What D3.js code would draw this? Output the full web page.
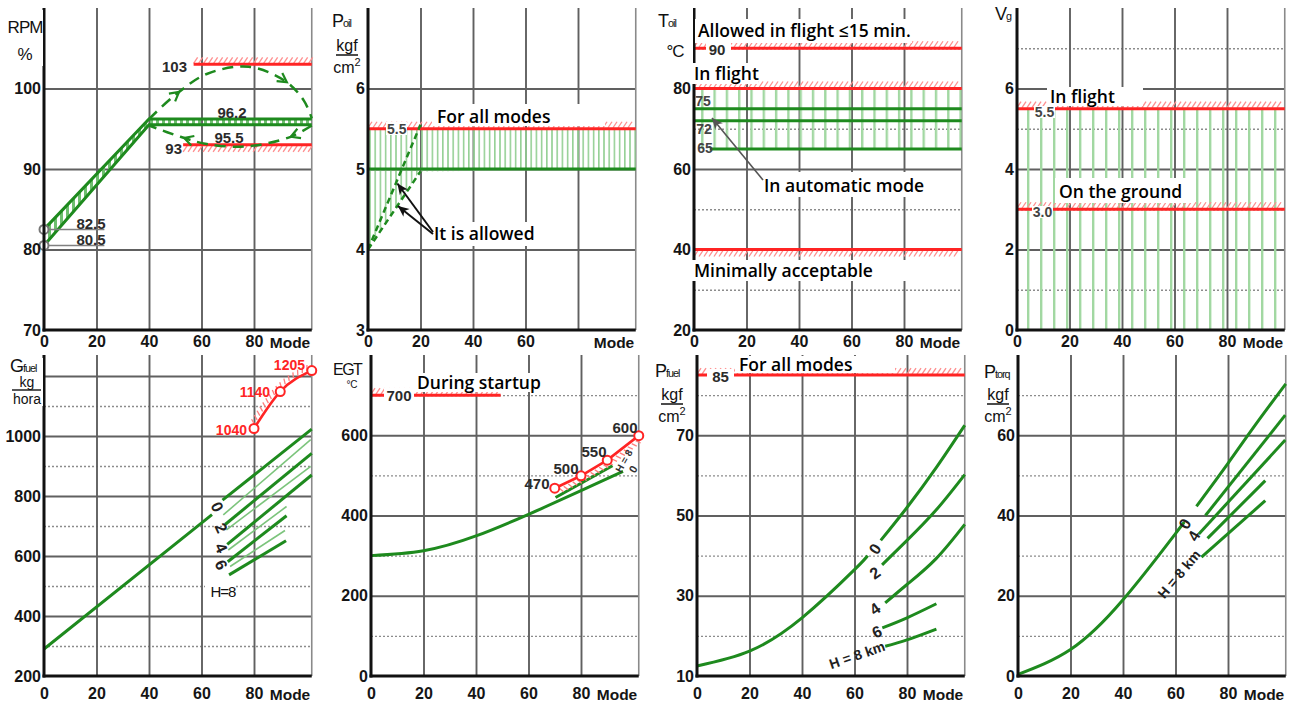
<!DOCTYPE html>
<html>
<head>
<meta charset="utf-8">
<script src="https://cdn.jsdelivr.net/npm/d3@7"></script>
<style>
  html, body { margin: 0; padding: 0; background: #fff; overflow: hidden; }
  svg { display: block; }
</style>
</head>
<body>
<svg id="chart" width="1290" height="704"></svg>
<script>
// ---------- data ----------
const modeTicks = [0, 20, 40, 60, 80];

// RPM, %
const rpmMode = [0, 40, 102];
const rpmUpper = [82.5, 96.2, 96.2];
const rpmLower = [80.5, 95.5, 95.5];
const rpmLimits = [103, 93];
const rpmLimitFrom = [57, 53];
const rpmArcUpMode = [40, 50, 62, 78, 92, 99, 102];
const rpmArcUp = [96.2, 99.2, 101.8, 102.7, 100.9, 98.5, 96.3];
const rpmArcDownMode = [102, 94, 77, 62, 52, 40];
const rpmArcDown = [95.4, 94.0, 92.8, 93.1, 94.0, 95.4];

// oil pressure, kgf/cm2
const poilLimit = 5.5;
const poilMin = 5.0;
const poilStartMode = [0, 20];
const poilStartUpper = [4.0, 5.55];
const poilStartLower = [4.0, 4.97];

// oil temperature, C
const toilLimits = [90, 80, 40];
const toilGreen = [75, 72, 65];
const toilGreenFrom = [0, 0, 6];

// vibration, g
const vgLimits = [5.5, 3.0];

// fuel consumption, kg/h, by altitude H (km)
const gfuelH0Mode = [0, 64, 66, 68, 102];
const gfuelH0 = [290, 738, NaN, 786, 1023];
const gfuelH2Mode = [69, 102];
const gfuelH2 = [705, 942];
const gfuelH4Mode = [69.8, 102];
const gfuelH4 = [639, 870];
const gfuelH6Mode = [70, 92.4];
const gfuelH6 = [581, 734];
const gfuelH8Mode = [70.5, 92.2];
const gfuelH8 = [537, 651];
const gfuelGuideMode = [[68.3, 101.6], [69.5, 101.6], [70.2, 92.4], [70.9, 91.8]];
const gfuelGuide = [[737, 988], [687, 899], [620, 765], [565, 685]];
const gfuelLimitMode = [80, 90, 102];
const gfuelLimit = [1025, 1148, 1218];
const gfuelLimitLabels = ["1040", "1140", "1205"];

// exhaust gas temperature, C
const egtMode = [0, 20, 40, 60, 80, 96];
const egtH0 = [300, 312, 349, 403, 462, 510];
const egtH8Mode = [70.3, 92];
const egtH8 = [445, 524];
const egtLimitMode = [70, 80, 90, 102];
const egtLimit = [468, 499, 538, 599];
const egtLimitLabels = ["470", "500", "550", "600"];
const egtStartLimit = 700;

// fuel pressure, kgf/cm2
const pfuelLimit = 85;
const pfuelH0Mode = [0, 20, 40, 60, 65, 67, 70, 80, 91, 102];
const pfuelH0 = [12.5, 16.2, 24.5, 36.5, 40.0, NaN, 43.8, 52.0, 61.8, 72.5];
const pfuelH2Mode = [70.5, 80, 91, 102];
const pfuelH2 = [37.7, 43.8, 51.3, 60.2];
const pfuelH4Mode = [71.7, 80, 91, 102];
const pfuelH4 = [28.2, 32.8, 39.2, 47.8];
const pfuelH6Mode = [70.6, 80, 91.2];
const pfuelH6 = [22, 24.5, 28];
const pfuelH8Mode = [71.7, 80, 91.2];
const pfuelH8 = [17.4, 19, 21.7];

// torque pressure, kgf/cm2
const ptorqH0Mode = [0, 20, 40, 60, 62.5, 65, 68, 80, 90, 102];
const ptorqH0 = [0.4, 6.6, 19, 35.5, 37.6, NaN, 42.3, 53.0, 62.2, 72.8];
const ptorqH2Mode = [71.4, 101.8];
const ptorqH2 = [40, 65];
const ptorqH4Mode = [68.9, 101.8];
const ptorqH4 = [35.4, 58.8];
const ptorqH6Mode = [72.2, 94.2];
const ptorqH6 = [34.3, 48.7];
const ptorqH8Mode = [69.9, 94.2];
const ptorqH8 = [29.6, 43.7];

// ---------- drawing ----------
const FONT = "'Liberation Sans', Arial, sans-serif";
const NARROW = "'Liberation Sans Narrow', 'Arial Narrow', 'Liberation Sans', sans-serif";
const NOTE = "'Open Sans', Lato, sans-serif";
const GREEN = "#1e8a1e", RED = "#ff2424", GRID = "#606060";
const W = 267.75;
const rowRange = [[330, 8], [676, 355]];

const svg = d3.select("#chart");
const defs = svg.append("defs");

function stripes(id, step, lw, color) {
  const p = defs.append("pattern").attr("id", id)
    .attr("patternUnits", "userSpaceOnUse").attr("width", step).attr("height", 10);
  p.append("rect").attr("width", lw).attr("height", 10).attr("fill", color);
}
stripes("hatchBand", 6, 3, "#6fbf6f");
stripes("hatchP2", 5.2, 1.6, "#95d095");
stripes("hatchP3", 12.3, 2.4, "#a2d8a2");
stripes("hatchP4", 13, 2.4, "#a2d8a2");

function makePanel(o) {
  const x = d3.scaleLinear().domain([0, 102]).range([o.left, o.left + W]);
  const y = d3.scaleLinear().domain(o.yDomain).range(rowRange[o.row]);
  const root = svg.append("g");
  const grid = root.append("g"), marks = root.append("g"), axes = root.append("g"), notes = root.append("g");
  const [yb, yt] = y.range();

  grid.append("g").attr("transform", `translate(${o.left},0)`)
    .call(d3.axisLeft(y).tickValues(o.minor).tickSize(-W).tickFormat(""))
    .call(g => g.select(".domain").remove())
    .selectAll("line").attr("stroke", "#8c8c8c").attr("stroke-width", 1.4).attr("stroke-dasharray", "2,2");
  grid.append("g").attr("transform", `translate(${o.left},0)`)
    .call(d3.axisLeft(y).tickValues(o.major).tickSize(-W).tickFormat(""))
    .call(g => g.select(".domain").remove())
    .selectAll("line").attr("stroke", GRID).attr("stroke-width", 1.9);
  grid.append("g").attr("transform", `translate(0,${yb})`)
    .call(d3.axisBottom(x).tickValues([20, 40, 60, 80]).tickSize(-(yb - yt)).tickFormat(""))
    .call(g => g.select(".domain").remove())
    .selectAll("line").attr("stroke", GRID).attr("stroke-width", 1.9);
  grid.append("line").attr("x1", x(102)).attr("x2", x(102)).attr("y1", yb).attr("y2", yt)
    .attr("stroke", "#8a8a8a").attr("stroke-width", 1.6);

  axes.append("line").attr("x1", o.left).attr("x2", o.left).attr("y1", yb + 1.5).attr("y2", yt)
    .attr("stroke", "#111").attr("stroke-width", 3);
  axes.append("line").attr("x1", o.left - 1.5).attr("x2", x(102)).attr("y1", yb).attr("y2", yb)
    .attr("stroke", "#111").attr("stroke-width", 3);

  axes.append("g").attr("transform", `translate(${o.left - 1},0)`)
    .call(d3.axisLeft(y).tickValues(o.labels).tickSize(0).tickPadding(2).tickFormat(d => String(d)))
    .call(g => g.select(".domain").remove())
    .selectAll("text").attr("font-size", 16).attr("font-weight", "bold")
    .attr("font-family", FONT).attr("fill", "#151515");
  const pad = o.row === 0 ? 6 : 12;
  axes.append("g").attr("transform", `translate(0,${yb})`)
    .call(d3.axisBottom(x).tickValues(o.xLabels || modeTicks).tickSize(0).tickPadding(pad).tickFormat(d => String(d)))
    .call(g => g.select(".domain").remove())
    .selectAll("text").attr("font-size", 16).attr("font-weight", "bold")
    .attr("font-family", FONT).attr("fill", "#151515");
  axes.append("text").attr("x", x(86)).attr("y", yb + pad + 11.5).text("Mode")
    .attr("font-size", 15.5).attr("font-weight", "bold").attr("font-family", FONT).attr("fill", "#151515");

  return { x, y, marks, notes, left: o.left };
}

function series(p, modes, vals, opt = {}) {
  const pts = modes.map((m, i) => [m, vals[i]]);
  const line = d3.line().defined(d => !isNaN(d[1]))
    .x(d => p.x(d[0])).y(d => p.y(d[1])).curve(opt.curve || d3.curveLinear);
  return p.marks.append("path").attr("d", line(pts)).attr("fill", "none")
    .attr("stroke", opt.color || GREEN).attr("stroke-width", opt.width || 3)
    .attr("stroke-dasharray", opt.dash || null).attr("stroke-linecap", "butt");
}

function limit(p, value, from, to, side) {
  const y0 = p.y(value);
  d3.range(p.x(from), p.x(to) - 3, 5).forEach(xp => {
    const yA = side < 0 ? y0 - 1 : y0 + 7, yB = side < 0 ? y0 - 7 : y0 + 1;
    p.marks.append("line").attr("x1", xp).attr("y1", yA).attr("x2", xp + 4).attr("y2", yB)
      .attr("stroke", "#ff8e8e").attr("stroke-width", 1.3);
  });
  p.marks.append("line").attr("x1", p.x(from)).attr("x2", p.x(to)).attr("y1", y0).attr("y2", y0)
    .attr("stroke", RED).attr("stroke-width", 3);
}

function hatchAlong(p, sel, side, step) {
  const n = sel.node(), L = n.getTotalLength();
  d3.range(4, L - 3, step).forEach(l => {
    const a = n.getPointAtLength(l), b = n.getPointAtLength(l + 1);
    const len = Math.hypot(b.x - a.x, b.y - a.y), tx = (b.x - a.x) / len, ty = (b.y - a.y) / len;
    const nx = -ty * side, ny = tx * side;
    p.marks.append("line").attr("x1", a.x + nx * 2).attr("y1", a.y + ny * 2)
      .attr("x2", a.x + nx * 7 + tx * 2.5).attr("y2", a.y + ny * 7 + ty * 2.5)
      .attr("stroke", "#ff7c7c").attr("stroke-width", 1.3);
  });
}

function chevrons(p, sel, fracs) {
  const n = sel.node(), L = n.getTotalLength();
  fracs.forEach(f => {
    const a = n.getPointAtLength(L * f), b = n.getPointAtLength(L * f - 2);
    const ang = Math.atan2(a.y - b.y, a.x - b.x) * 180 / Math.PI;
    p.marks.append("path").attr("d", "M-9,-5L0,0L-9,5")
      .attr("transform", `translate(${a.x},${a.y}) rotate(${ang})`)
      .attr("fill", "none").attr("stroke", GREEN).attr("stroke-width", 2.2);
  });
}

function circles(p, modes, vals, color) {
  p.marks.selectAll(null).data(modes.map((m, i) => [m, vals[i]])).join("circle")
    .attr("cx", d => p.x(d[0])).attr("cy", d => p.y(d[1])).attr("r", 4.5)
    .attr("fill", "#fff").attr("stroke", color).attr("stroke-width", 2);
}

function box(layer, x0, y0, x1, y1) {
  return layer.append("rect").attr("x", x0).attr("y", y0).attr("width", x1 - x0).attr("height", y1 - y0).attr("fill", "#fff");
}
function txt(layer, x, y, s, o = {}) {
  return layer.append("text").attr("x", x).attr("y", y).text(s)
    .attr("font-size", o.size || 15).attr("font-weight", o.weight || "bold")
    .attr("font-family", o.family || FONT).attr("fill", o.color || "#2b2b2b")
    .attr("text-anchor", o.anchor || "middle").attr("dominant-baseline", o.base || "central")
    .attr("letter-spacing", o.ls || null)
    .attr("transform", o.rot ? `rotate(${o.rot},${x},${y})` : null);
}
function note(layer, x, y, s, b) {
  box(layer, b[0], b[1], b[2], b[3]);
  return txt(layer, x, y, s, { family: NOTE, size: 17.5, weight: 600, anchor: "start", base: "alphabetic", color: "#000" });
}
function sym(layer, x, y, main, sub, size = 18) {
  const t = layer.append("text").attr("x", x).attr("y", y).attr("font-family", NARROW)
    .attr("font-size", size).attr("fill", "#111").attr("letter-spacing", -1);
  t.append("tspan").text(main);
  if (sub) t.append("tspan").attr("font-size", size * 0.6).attr("dy", 0).text(sub);
  return t;
}
function pointer(layer, x1, y1, x2, y2, color, w) {
  const ang = Math.atan2(y2 - y1, x2 - x1) * 180 / Math.PI;
  layer.append("line").attr("x1", x1).attr("y1", y1).attr("x2", x2).attr("y2", y2)
    .attr("stroke", color).attr("stroke-width", w);
  layer.append("path").attr("d", "M-11,-5L0,0L-11,5L-8,0Z")
    .attr("transform", `translate(${x2},${y2}) rotate(${ang})`).attr("fill", color);
}
function titleBox(layer, id, x0, y0, x1, y1) {
  defs.append("clipPath").attr("id", id).append("rect")
    .attr("x", x0).attr("y", y0).attr("width", x1 - x0).attr("height", y1 - y0);
  box(layer, x0, y0, x1, y1);
  return layer.append("g").attr("clip-path", `url(#${id})`);
}
function kgfcm(g, cx, yk, ycm) {
  g.append("text").attr("x", cx).attr("y", yk).text("kgf").attr("text-anchor", "middle")
    .attr("font-family", NARROW).attr("font-size", 16).attr("fill", "#111");
  g.append("line").attr("x1", cx - 11).attr("x2", cx + 11).attr("y1", yk + 4).attr("y2", yk + 4)
    .attr("stroke", "#111").attr("stroke-width", 1.5);
  const t = g.append("text").attr("x", cx).attr("y", ycm).attr("text-anchor", "middle")
    .attr("font-family", NARROW).attr("font-size", 16).attr("fill", "#111");
  t.append("tspan").text("cm");
  t.append("tspan").attr("font-size", 11).attr("dy", -7).text("2");
}

// ===== Panel 1: RPM =====
const p1 = makePanel({ row: 0, left: 44, yDomain: [70, 110], major: [80, 90, 100], minor: [], labels: [70, 80, 90, 100] });
{
  const band = rpmMode.map((m, i) => ({ m, lo: rpmLower[i], hi: rpmUpper[i] }));
  p1.marks.append("path")
    .attr("d", d3.area().x(d => p1.x(d.m)).y0(d => p1.y(d.lo)).y1(d => p1.y(d.hi))(band))
    .attr("fill", "url(#hatchBand)");
  series(p1, rpmMode, rpmUpper);
  series(p1, rpmMode, rpmLower);
  [rpmUpper[0], rpmLower[0]].forEach(v =>
    p1.marks.append("line").attr("x1", p1.x(0)).attr("x2", p1.x(23)).attr("y1", p1.y(v)).attr("y2", p1.y(v))
      .attr("stroke", "#808080").attr("stroke-width", 1.5));
  circles(p1, [0, 0], [rpmUpper[0], rpmLower[0]], "#777");
  rpmLimits.forEach((v, i) => limit(p1, v, rpmLimitFrom[i], 102, i === 0 ? -1 : 1));
  const up = series(p1, rpmArcUpMode, rpmArcUp, { curve: d3.curveCatmullRom, dash: "11,7", width: 2.5 });
  const dn = series(p1, rpmArcDownMode, rpmArcDown, { curve: d3.curveCatmullRom, dash: "11,7", width: 2.5 });
  chevrons(p1, up, [0.2, 0.78]);
  chevrons(p1, dn, [0.14, 0.78]);
  const n = p1.notes;
  const t = titleBox(n, "c1", 7, 10, 43, 66);
  txt(t, 25, 33, "RPM", { family: NARROW, size: 17, weight: "normal", base: "alphabetic", color: "#111", ls: -1 });
  txt(t, 25, 60, "%", { family: NARROW, size: 17, weight: "normal", base: "alphabetic", color: "#111" });
  txt(n, 187, 66, "103", { anchor: "end" });
  txt(n, 182, 148, "93", { anchor: "end" });
  txt(n, 232, 112, "96.2");
  txt(n, 229, 137, "95.5");
  txt(n, 91, 223, "82.5");
  txt(n, 91, 239, "80.5");
}

// ===== Panel 2: oil pressure =====
const p2 = makePanel({ row: 0, left: 368, yDomain: [3, 7], major: [4, 5, 6], minor: [], labels: [3, 4, 5, 6], xLabels: [0, 20, 40, 60] });
{
  const hatch = [[poilStartMode[0], poilStartLower[0]], [19.5, poilStartLower[1]], [102, poilMin]];
  p2.marks.append("path")
    .attr("d", d3.area().x(d => p2.x(d[0])).y0(d => p2.y(d[1])).y1(p2.y(poilLimit))(hatch))
    .attr("fill", "url(#hatchP2)");
  series(p2, [0, 102], [poilMin, poilMin]);
  limit(p2, poilLimit, 0, 102, -1);
  series(p2, poilStartMode, poilStartUpper, { dash: "6,4", width: 2.5 });
  series(p2, poilStartMode, poilStartLower, { dash: "6,4", width: 2.5 });
  const n = p2.notes;
  const t = titleBox(n, "c2", 330, 8, 365, 77);
  sym(t, 332, 27, "P", "oil");
  kgfcm(t, 347, 51, 73);
  box(n, 386, 122, 407, 135);
  txt(n, 396.7, 128.5, "5.5", { size: 14, color: "#444" });
  note(n, 437, 123, "For all modes", [432, 104, 605, 126]);
  note(n, 434, 240, "It is allowed", [430, 222, 564, 246]);
  pointer(n, 433, 232, p2.x(11.2), p2.y(4.82), "#111", 2);
  pointer(n, 433, 234, p2.x(11.4), p2.y(4.54), "#111", 2);
}

// ===== Panel 3: oil temperature =====
const p3 = makePanel({ row: 0, left: 694, yDomain: [20, 100], major: [40, 60, 80], minor: [30, 50, 70, 90], labels: [20, 40, 60, 80] });
{
  p3.marks.append("rect").attr("x", p3.x(0.5)).attr("y", p3.y(toilLimits[1]))
    .attr("width", p3.x(102) - p3.x(0.5)).attr("height", p3.y(toilGreen[2]) - p3.y(toilLimits[1]))
    .attr("fill", "url(#hatchP3)");
  toilGreen.forEach((v, i) => series(p3, [toilGreenFrom[i], 102], [v, v]));
  toilLimits.forEach((v, i) => limit(p3, v, 0, 102, i < 2 ? -1 : 1));
  const n = p3.notes;
  const t = titleBox(n, "c3", 657, 8, 693, 77);
  sym(t, 658, 27, "T", "oil");
  txt(t, 675, 57, "°C", { family: NARROW, size: 17, weight: "normal", base: "alphabetic", color: "#111", ls: -1 });
  note(n, 698, 37, "Allowed in flight \u226415 min.", [695, 19, 912, 43]);
  box(n, 706, 43, 731, 55);
  txt(n, 717, 49, "90");
  note(n, 694, 80, "In flight", [692, 63, 758, 84]);
  txt(n, 703, 101, "75", { size: 14, color: "#444" });
  txt(n, 704, 129, "72", { size: 14, color: "#444" });
  txt(n, 705, 148, "65", { size: 14, color: "#444" });
  note(n, 764, 192, "In automatic mode", [760, 172, 955, 197]);
  pointer(n, 763, 180, 712, 118, "#555", 1.6);
  note(n, 694, 277, "Minimally acceptable", [692, 260, 907, 281]);
}

// ===== Panel 4: vibration =====
const p4 = makePanel({ row: 0, left: 1017, yDomain: [0, 8], major: [2, 4, 6], minor: [1, 3, 5, 7], labels: [0, 2, 4, 6] });
{
  p4.marks.append("rect").attr("x", p4.x(1)).attr("y", p4.y(vgLimits[0]))
    .attr("width", p4.x(102) - p4.x(1)).attr("height", p4.y(0) - p4.y(vgLimits[0]))
    .attr("fill", "url(#hatchP4)");
  vgLimits.forEach(v => limit(p4, v, 0, 102, -1));
  const n = p4.notes;
  sym(n, 995, 20, "V", "g");
  note(n, 1050, 103, "In flight", [1047, 87, 1143, 106]);
  box(n, 1034, 106, 1055, 118);
  txt(n, 1044.5, 112, "5.5", { size: 14, color: "#444" });
  note(n, 1059, 198, "On the ground", [1055, 178, 1194, 203]);
  box(n, 1032, 206, 1053, 218);
  txt(n, 1042.5, 212, "3.0", { size: 14, color: "#444" });
}

// ===== Panel 5: fuel consumption =====
const p5 = makePanel({ row: 1, left: 44, yDomain: [200, 1270], major: [400, 600, 800, 1000, 1200], minor: [300, 500, 700, 900, 1100], labels: [200, 400, 600, 800, 1000] });
{
  gfuelGuideMode.forEach((m, i) => series(p5, m, gfuelGuide[i], { color: "#7cc47c", width: 1.6 }));
  series(p5, gfuelH0Mode, gfuelH0);
  series(p5, gfuelH2Mode, gfuelH2);
  series(p5, gfuelH4Mode, gfuelH4);
  series(p5, gfuelH6Mode, gfuelH6);
  series(p5, gfuelH8Mode, gfuelH8);
  const red = series(p5, gfuelLimitMode, gfuelLimit, { color: RED, curve: d3.curveMonotoneX, width: 2.6 });
  hatchAlong(p5, red, -1, 5);
  circles(p5, gfuelLimitMode, gfuelLimit, RED);
  const n = p5.notes;
  const t = titleBox(n, "c5", 8, 358, 43, 406);
  sym(t, 10, 372, "G", "fuel");
  txt(t, 27, 387, "kg", { family: NARROW, size: 14, weight: "normal", base: "alphabetic", color: "#111" });
  t.append("line").attr("x1", 12).attr("x2", 41).attr("y1", 390).attr("y2", 390).attr("stroke", "#111").attr("stroke-width", 1.4);
  txt(t, 27, 404, "hora", { family: NARROW, size: 14, weight: "normal", base: "alphabetic", color: "#111" });
  const lblX = [247, 270, 305], lblY = [430, 392, 365];
  gfuelLimitLabels.forEach((s, i) => txt(n, lblX[i], lblY[i], s, { anchor: "end", color: RED, size: 14 }));
  [["0", 217, 507], ["2", 221, 528], ["4", 221, 548], ["6", 221, 565]]
    .forEach(d => txt(n, d[1], d[2], d[0], { size: 16, color: "#222", rot: 65 }));
  box(n, 205, 580, 236, 601);
  txt(n, 223, 591, "H=8", { size: 15, weight: "normal", family: NARROW, color: "#111", ls: -1 });
}

// ===== Panel 6: EGT =====
const p6 = makePanel({ row: 1, left: 371, yDomain: [0, 800], major: [200, 400, 600], minor: [100, 300, 500, 700], labels: [0, 200, 400, 600] });
{
  limit(p6, egtStartLimit, 0, 49.4, -1);
  series(p6, egtMode, egtH0, { curve: d3.curveNatural });
  series(p6, egtH8Mode, egtH8);
  const red = series(p6, egtLimitMode, egtLimit, { color: RED, width: 2.6 });
  hatchAlong(p6, red, 1, 5);
  circles(p6, egtLimitMode, egtLimit, RED);
  const n = p6.notes;
  const t = titleBox(n, "c6", 330, 360, 366, 390);
  txt(t, 333, 375, "EGT", { family: NARROW, size: 16, weight: "normal", base: "alphabetic", color: "#111", anchor: "start", ls: -1.5 });
  txt(t, 352, 388, "°C", { family: NARROW, size: 10, weight: "normal", base: "alphabetic", color: "#111" });
  box(n, 384, 388, 414, 402);
  txt(n, 399, 395.5, "700");
  note(n, 417, 389, "During startup", [413, 373, 564, 392]);
  const lx = [537, 566, 594, 625], ly = [483, 468, 451, 427];
  egtLimitLabels.forEach((s, i) => txt(n, lx[i], ly[i], s));
  txt(n, 624, 461, "H = 8", { size: 10, rot: -60, color: "#333" });
  txt(n, 633, 469, "0", { size: 11, rot: -60, color: "#333" });
}

// ===== Panel 7: fuel pressure =====
const p7 = makePanel({ row: 1, left: 697, yDomain: [10, 90], major: [30, 50, 70], minor: [20, 40, 60, 80], labels: [10, 30, 50, 70] });
{
  limit(p7, pfuelLimit, 0, 102, -1);
  const c = { curve: d3.curveNatural };
  series(p7, pfuelH0Mode, pfuelH0, c);
  series(p7, pfuelH2Mode, pfuelH2, c);
  series(p7, pfuelH4Mode, pfuelH4, c);
  series(p7, pfuelH6Mode, pfuelH6, c);
  series(p7, pfuelH8Mode, pfuelH8, c);
  const n = p7.notes;
  const t = titleBox(n, "c7", 653, 360, 688, 427);
  sym(t, 655, 377, "P", "fuel");
  kgfcm(t, 672, 400, 422);
  box(n, 707, 369, 734, 383);
  txt(n, 720.5, 376, "85");
  note(n, 739, 371, "For all modes", [735, 356, 895, 373]);
  [["0", 875, 549, -55], ["2", 875, 573, -35], ["4", 875, 609, -35], ["6", 877, 632, -25]]
    .forEach(d => txt(n, d[1], d[2], d[0], { size: 16, color: "#222", rot: d[3] }));
  txt(n, 857, 655, "H = 8 km", { size: 14, color: "#222", rot: -19 });
}

// ===== Panel 8: torque pressure =====
const p8 = makePanel({ row: 1, left: 1018, yDomain: [0, 80], major: [20, 40, 60], minor: [10, 30, 50, 70], labels: [0, 20, 40, 60] });
{
  series(p8, ptorqH0Mode, ptorqH0, { curve: d3.curveNatural });
  series(p8, ptorqH2Mode, ptorqH2);
  series(p8, ptorqH4Mode, ptorqH4);
  series(p8, ptorqH6Mode, ptorqH6);
  series(p8, ptorqH8Mode, ptorqH8);
  const n = p8.notes;
  const t = titleBox(n, "c8", 983, 358, 1015, 427);
  sym(t, 984, 378, "P", "torq");
  kgfcm(t, 998, 400, 422);
  txt(n, 1185, 524, "0", { size: 16, color: "#222", rot: -60 });
  txt(n, 1194, 536, "4", { size: 16, color: "#222", rot: -60 });
  txt(n, 1179, 574, "H = 8 km", { size: 14, color: "#222", rot: -50 });
}
</script>
</body>
</html>
